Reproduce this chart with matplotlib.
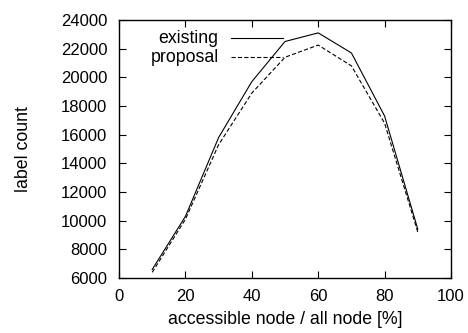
import matplotlib
matplotlib.use("Agg")
import matplotlib.pyplot as plt

plt.rcParams['font.family'] = ['Liberation Sans', 'DejaVu Sans']
plt.rcParams['lines.scale_dashes'] = False

# accessible node ratio [%]
ratio = [10, 20, 30, 40, 50, 60, 70, 80, 90]
existing = [6600, 10300, 15800, 19700, 22500, 23100, 21700, 17300, 9400]
proposal = [6400, 10100, 15300, 18900, 21400, 22250, 20800, 16800, 9200]

fig = plt.figure(figsize=(4.68, 3.33), dpi=100)
ax = fig.add_axes([0.2543, 0.165, 0.7094, 0.775])

ax.plot(ratio, existing, color='black', lw=0.8, ls='-')
ax.plot(ratio, proposal, color='black', lw=0.8, ls=(0, (3, 1.6)))

# gnuplot style key: text right aligned, sample to the right
keys = [('existing', '-', 0.929), ('proposal', (0, (3, 1.6)), 0.855)]
for name, style, yk in keys:
    ax.text(0.300, yk, name, transform=ax.transAxes, ha='right', va='center',
            fontsize=12.8)
    ax.plot([0.336, 0.494], [yk, yk], transform=ax.transAxes, color='black',
            lw=0.8, ls=style)

ax.set_xlim(0, 100)
ax.set_ylim(6000, 24000)
ax.set_xticks(range(0, 101, 20))
ax.set_yticks(range(6000, 24001, 2000))
ax.tick_params(axis='both', direction='in', top=True, right=True, length=5,
               width=0.8, labelsize=12)
ax.tick_params(axis='x', pad=8)
ax.tick_params(axis='y', pad=8.5)
for s in ax.spines.values():
    s.set_linewidth(1.0)

ax.set_xlabel('accessible node / all node [%]', fontsize=12.8, labelpad=5)
ax.set_ylabel('label count', fontsize=12.8, labelpad=21)

fig.savefig('out.png', dpi=100)
